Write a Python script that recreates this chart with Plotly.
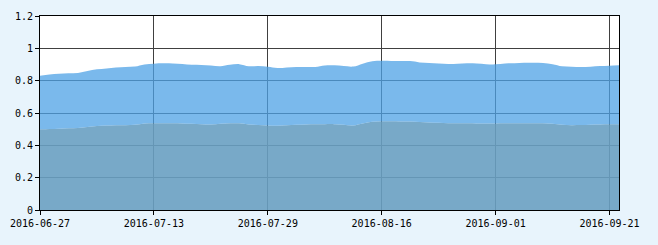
import pandas as pd
import plotly.graph_objects as go

# Chinese trading days 2016-06-27 .. 2016-09-22 (Mid-Autumn holiday 09-15/16 closed)
holidays = ["2016-09-15", "2016-09-16"]
dates = [d.strftime("%Y-%m-%d") for d in pd.bdate_range("2016-06-27", "2016-09-22")
         if d.strftime("%Y-%m-%d") not in holidays]

upper = [0.831, 0.838, 0.843, 0.846, 0.848, 0.860, 0.870, 0.876, 0.881, 0.884,
         0.887, 0.900, 0.905, 0.907, 0.906, 0.903, 0.898, 0.897, 0.894, 0.889,
         0.898, 0.902, 0.889, 0.891, 0.886, 0.878, 0.882, 0.885, 0.885, 0.885,
         0.894, 0.895, 0.890, 0.887, 0.905, 0.920, 0.923, 0.922, 0.921, 0.921,
         0.913, 0.909, 0.906, 0.903, 0.904, 0.907, 0.906, 0.902, 0.901, 0.906,
         0.908, 0.911, 0.911, 0.909, 0.902, 0.889, 0.886, 0.885, 0.886, 0.890,
         0.892, 0.895]

lower = [0.499, 0.501, 0.503, 0.505, 0.507, 0.513, 0.519, 0.522, 0.524, 0.525,
         0.527, 0.535, 0.537, 0.537, 0.536, 0.535, 0.533, 0.531, 0.529, 0.533,
         0.537, 0.536, 0.529, 0.526, 0.523, 0.521, 0.524, 0.527, 0.529, 0.530,
         0.531, 0.531, 0.527, 0.523, 0.535, 0.546, 0.549, 0.549, 0.548, 0.547,
         0.544, 0.541, 0.539, 0.537, 0.537, 0.536, 0.535, 0.535, 0.535, 0.536,
         0.537, 0.537, 0.537, 0.536, 0.533, 0.527, 0.525, 0.526, 0.528, 0.529,
         0.530, 0.531]

x_ticks = ["2016-06-27", "2016-07-13", "2016-07-29", "2016-08-16", "2016-09-01", "2016-09-21"]
y_ticks = [0, 0.2, 0.4, 0.6, 0.8, 1, 1.2]

fig = go.Figure()
fig.add_trace(go.Scatter(x=dates, y=lower, mode="lines", line=dict(width=0, shape="spline"),
                         fill="tozeroy", fillcolor="rgba(105,160,194,0.9)", hoverinfo="skip"))
fig.add_trace(go.Scatter(x=dates, y=upper, mode="lines", line=dict(width=0, shape="spline"),
                         fill="tonexty", fillcolor="rgba(78,162,230,0.75)", hoverinfo="skip"))

font = dict(family="DejaVu Sans Mono, Liberation Mono, monospace", size=10, color="#000000")
fig.update_layout(
    width=658, height=245,
    margin=dict(l=38, r=39, t=10, b=35),
    paper_bgcolor="#e8f4fc", plot_bgcolor="#ffffff",
    showlegend=False, font=font,
)
fig.update_xaxes(type="category", range=[0, len(dates) - 1], tickmode="array", tickvals=x_ticks,
                 ticktext=x_ticks, showgrid=True, gridcolor="#404040", gridwidth=1,
                 showline=True, linecolor="#000000", linewidth=1, mirror=True,
                 ticks="outside", ticklen=4, tickcolor="#000000", tickangle=0, layer="above traces")
fig.update_yaxes(range=[0, 1.2], tickmode="array", tickvals=y_ticks,
                 ticktext=[f"{v:g}" for v in y_ticks], showgrid=True, gridcolor="#404040", gridwidth=1,
                 showline=True, linecolor="#000000", linewidth=1, mirror=True, zeroline=False,
                 ticks="outside", ticklen=4, tickcolor="#000000", layer="above traces")

fig.write_html("out.html")
